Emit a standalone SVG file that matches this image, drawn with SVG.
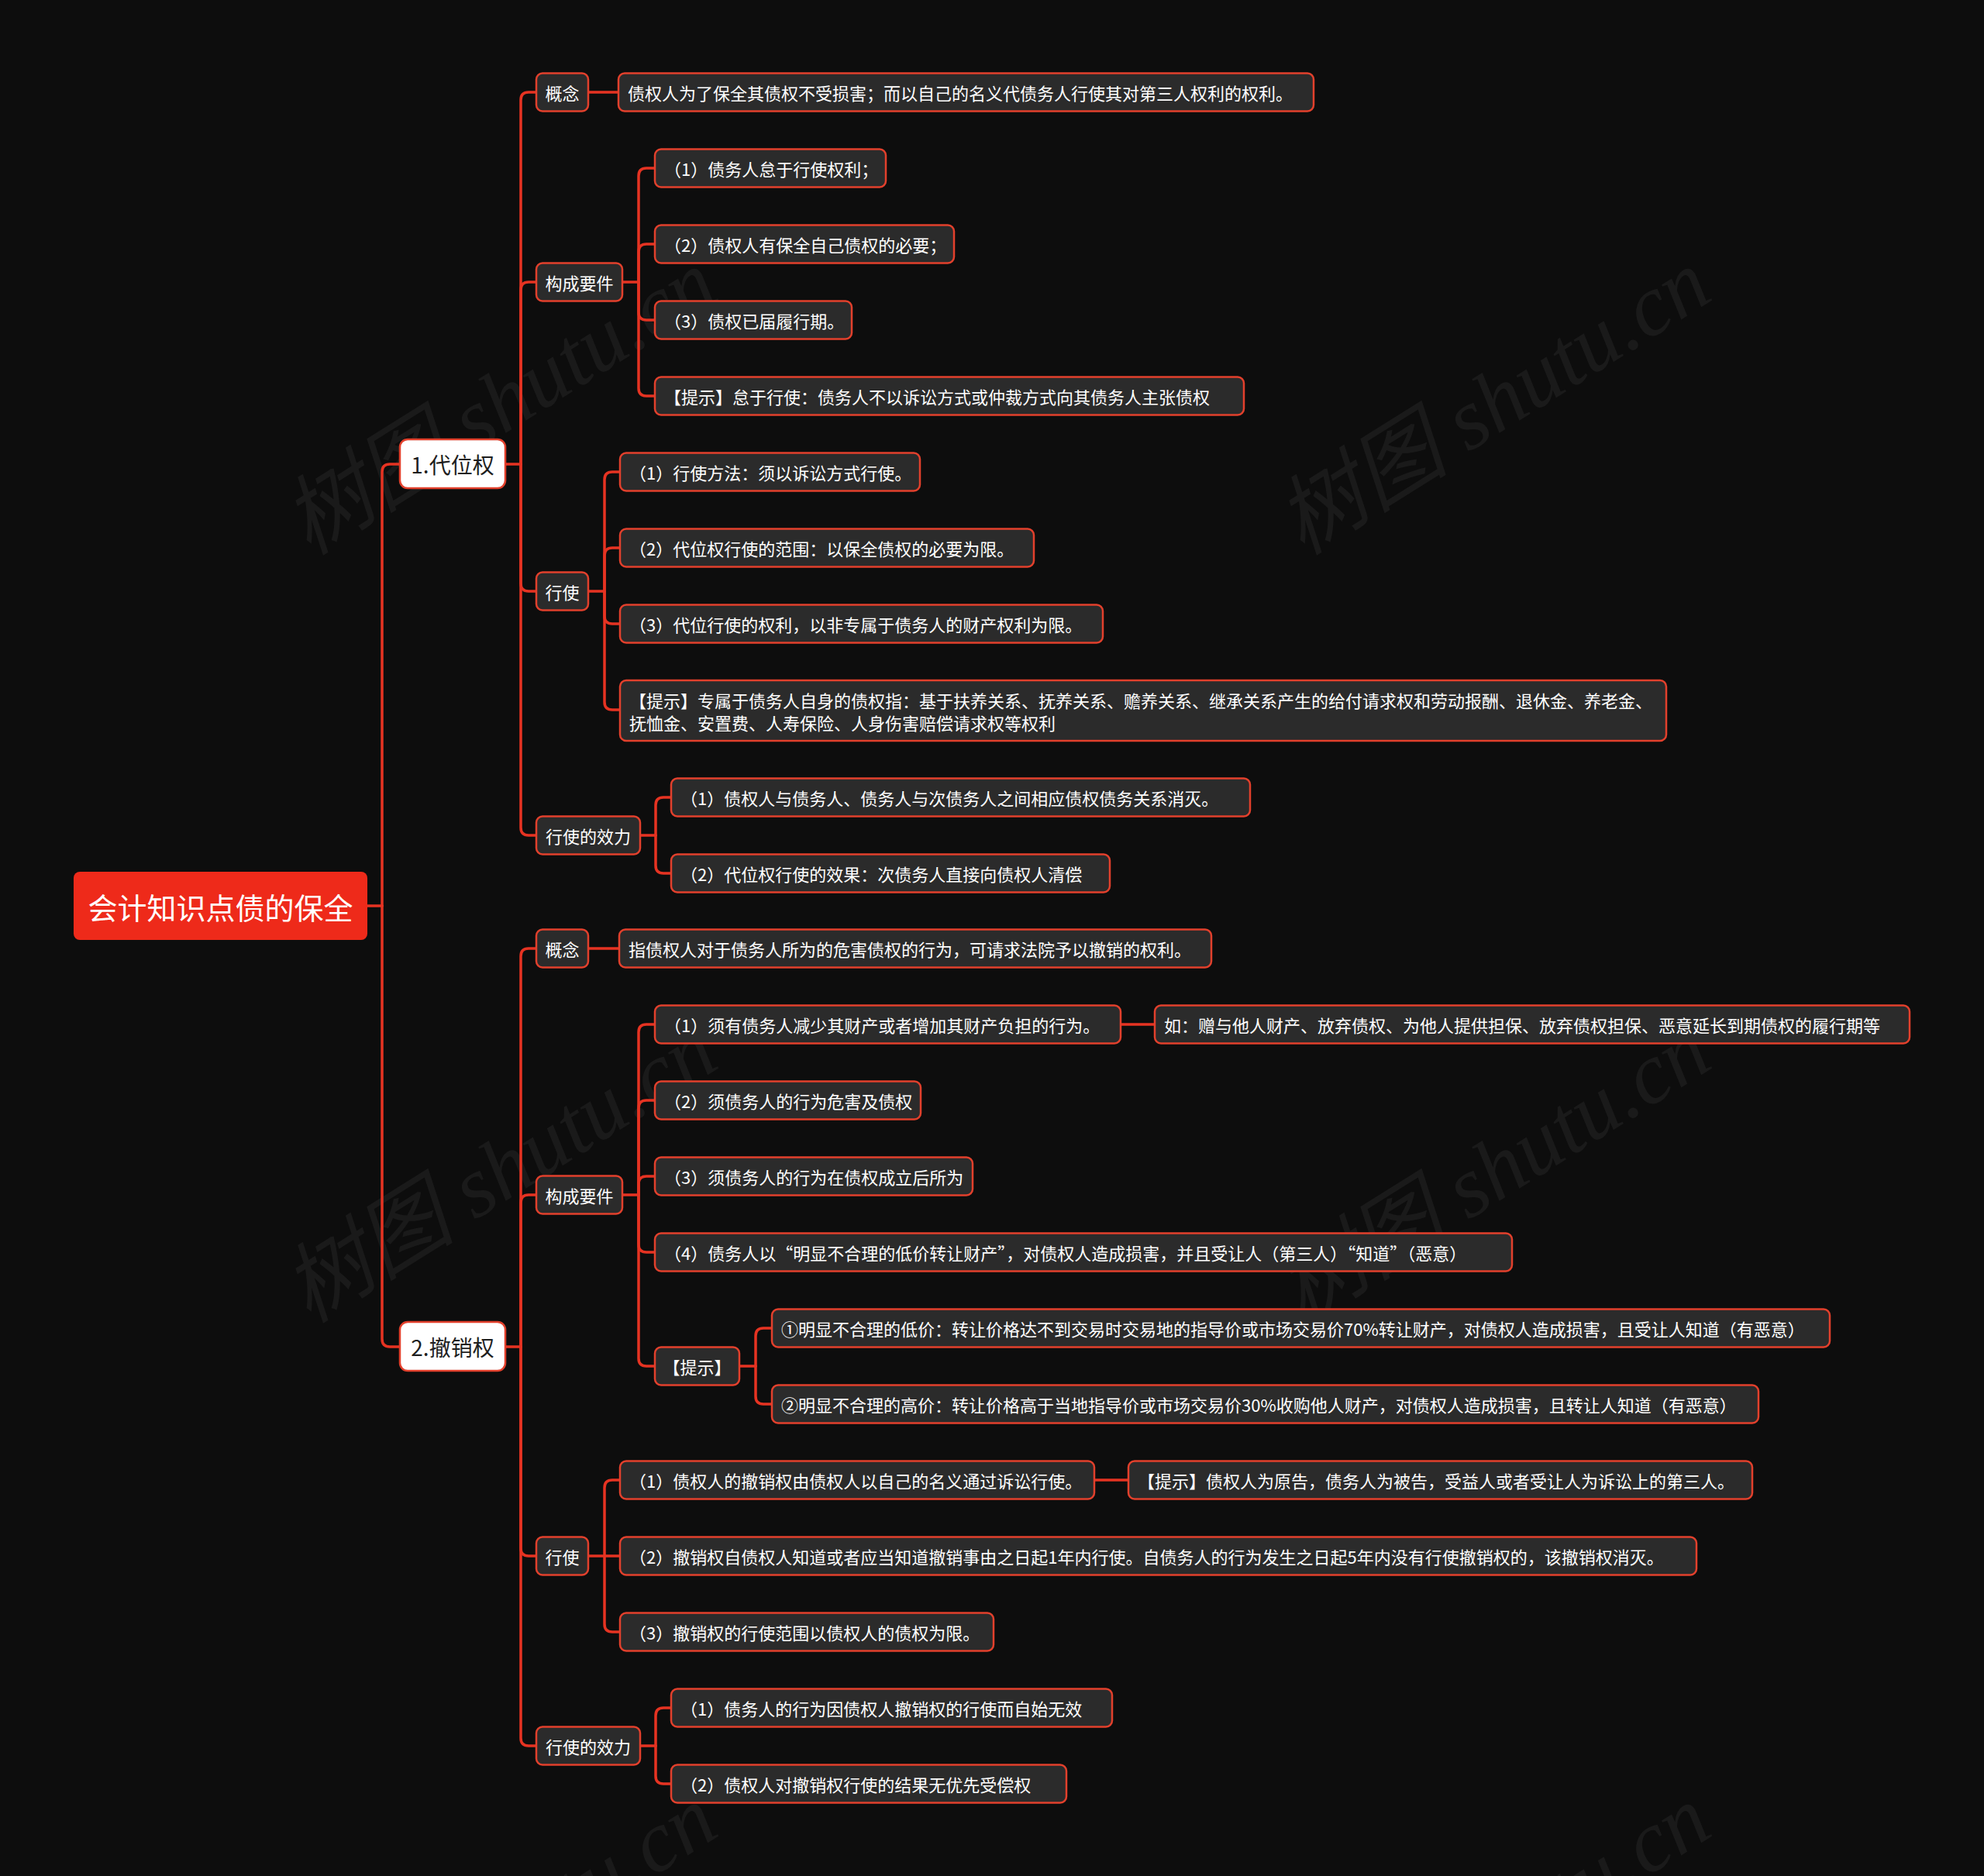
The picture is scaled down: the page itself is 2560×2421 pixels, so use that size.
<svg xmlns="http://www.w3.org/2000/svg" width="2560" height="2421" viewBox="0 0 2560 2421">
<style>
.bg{fill:#0d0d0d}
.wm{font-family:"Liberation Serif","Noto Sans CJK SC",serif;font-style:italic;font-size:112px;fill:#ffffff;fill-opacity:0.055}
.n rect{fill:#2b2b2b;stroke:#e2402c;stroke-width:2.5}
.n text{font-family:"Noto Sans CJK SC","Microsoft YaHei",sans-serif;font-size:22px;fill:#ffffff;dominant-baseline:central}
.c{text-anchor:middle}
.l1 rect{fill:#ffffff;stroke:#e2402c;stroke-width:2.5}
.l1 text{font-family:"Noto Sans CJK SC","Microsoft YaHei",sans-serif;font-size:28px;fill:#1e1e1e;dominant-baseline:central;text-anchor:middle}
.root rect{fill:#ee2a1a}
.root text{font-family:"Noto Sans CJK SC","Microsoft YaHei",sans-serif;font-size:38px;fill:#ffffff;dominant-baseline:central;text-anchor:middle}
#connectors path{fill:none;stroke:#e63322;stroke-width:3.5;stroke-linecap:round}
</style>
<rect class="bg" x="0" y="0" width="2560" height="2421"/>
<g id="watermarks">
<text class="wm" x="645" y="519" text-anchor="middle" dominant-baseline="central" transform="rotate(-32 645 519)">树图 shutu.cn</text>
<text class="wm" x="1927" y="519" text-anchor="middle" dominant-baseline="central" transform="rotate(-32 1927 519)">树图 shutu.cn</text>
<text class="wm" x="645" y="1510" text-anchor="middle" dominant-baseline="central" transform="rotate(-32 645 1510)">树图 shutu.cn</text>
<text class="wm" x="1927" y="1510" text-anchor="middle" dominant-baseline="central" transform="rotate(-32 1927 1510)">树图 shutu.cn</text>
<text class="wm" x="645" y="2501" text-anchor="middle" dominant-baseline="central" transform="rotate(-32 645 2501)">树图 shutu.cn</text>
<text class="wm" x="1927" y="2501" text-anchor="middle" dominant-baseline="central" transform="rotate(-32 1927 2501)">树图 shutu.cn</text>
</g>
<g id="connectors">
<path d="M474,1169 H493"/>
<path d="M493,1169 V609 Q493,599 503,599 H516"/>
<path d="M493,1169 V1728 Q493,1738 503,1738 H516"/>
<path d="M652,599 H672"/>
<path d="M672,599 V129 Q672,119 682,119 H692"/>
<path d="M672,599 V374 Q672,364 682,364 H692"/>
<path d="M672,599 V753 Q672,763 682,763 H692"/>
<path d="M672,599 V1068 Q672,1078 682,1078 H692"/>
<path d="M759,119 H798"/>
<path d="M803,364 H824"/>
<path d="M824,364 V227 Q824,217 834,217 H845"/>
<path d="M824,364 V325 Q824,315 834,315 H845"/>
<path d="M824,364 V403 Q824,413 834,413 H845"/>
<path d="M824,364 V501 Q824,511 834,511 H845"/>
<path d="M759,763 H780"/>
<path d="M780,763 V619 Q780,609 790,609 H800"/>
<path d="M780,763 V717 Q780,707 790,707 H800"/>
<path d="M780,763 V795 Q780,805 790,805 H800"/>
<path d="M780,763 V906 Q780,916 790,916 H800"/>
<path d="M825,1078 H846"/>
<path d="M846,1078 V1039 Q846,1029 856,1029 H866"/>
<path d="M846,1078 V1117 Q846,1127 856,1127 H866"/>
<path d="M652,1738 H672"/>
<path d="M672,1738 V1234 Q672,1224 682,1224 H692"/>
<path d="M672,1738 V1552 Q672,1542 682,1542 H692"/>
<path d="M672,1738 V1998 Q672,2008 682,2008 H692"/>
<path d="M672,1738 V2243 Q672,2253 682,2253 H692"/>
<path d="M759,1224 H799"/>
<path d="M803,1542 H824"/>
<path d="M824,1542 V1332 Q824,1322 834,1322 H845"/>
<path d="M824,1542 V1430 Q824,1420 834,1420 H845"/>
<path d="M824,1542 V1528 Q824,1518 834,1518 H845"/>
<path d="M824,1542 V1606 Q824,1616 834,1616 H845"/>
<path d="M824,1542 V1753 Q824,1763 834,1763 H845"/>
<path d="M1446,1322 H1490"/>
<path d="M954,1763 H975"/>
<path d="M975,1763 V1724 Q975,1714 985,1714 H996"/>
<path d="M975,1763 V1802 Q975,1812 985,1812 H996"/>
<path d="M759,2008 H800"/>
<path d="M780,2008 V1920 Q780,1910 790,1910 H800"/>
<path d="M780,2008 V2096 Q780,2106 790,2106 H800"/>
<path d="M1412,1910 H1456"/>
<path d="M825,2253 H846"/>
<path d="M846,2253 V2214 Q846,2204 856,2204 H866"/>
<path d="M846,2253 V2292 Q846,2302 856,2302 H866"/>
</g>
<g id="root" class="root"><rect x="95" y="1125" width="379" height="88" rx="8"/><text x="284.5" y="1169">会计知识点债的保全</text></g>
<g id="l1a" class="l1"><rect x="516" y="567" width="136" height="63" rx="10"/><text x="584" y="599">1.代位权</text></g>
<g id="l1b" class="l1"><rect x="516" y="1706" width="136" height="63" rx="10"/><text x="584" y="1738">2.撤销权</text></g>

<g id="n1" class="n"><rect x="692" y="94.5" width="67" height="49" rx="8"/><text class="c" x="725.5" y="119">概念</text></g>
<g id="n2" class="n"><rect x="798" y="94.5" width="897" height="49" rx="8"/><text x="810" y="119">债权人为了保全其债权不受损害；而以自己的名义代债务人行使其对第三人权利的权利。</text></g>
<g id="n3" class="n"><rect x="692" y="339.5" width="111" height="49" rx="8"/><text class="c" x="747.5" y="364">构成要件</text></g>
<g id="n4" class="n"><rect x="845" y="192.5" width="298" height="49" rx="8"/><text x="857" y="217">（1）债务人怠于行使权利；</text></g>
<g id="n5" class="n"><rect x="845" y="290.5" width="386" height="49" rx="8"/><text x="857" y="315">（2）债权人有保全自己债权的必要；</text></g>
<g id="n6" class="n"><rect x="845" y="388.5" width="254" height="49" rx="8"/><text x="857" y="413">（3）债权已届履行期。</text></g>
<g id="n7" class="n"><rect x="845" y="486.5" width="760" height="49" rx="8"/><text x="857" y="511">【提示】怠于行使：债务人不以诉讼方式或仲裁方式向其债务人主张债权</text></g>
<g id="n8" class="n"><rect x="692" y="738.5" width="67" height="49" rx="8"/><text class="c" x="725.5" y="763">行使</text></g>
<g id="n9" class="n"><rect x="800" y="584.5" width="387" height="49" rx="8"/><text x="812" y="609">（1）行使方法：须以诉讼方式行使。</text></g>
<g id="n10" class="n"><rect x="800" y="682.5" width="534" height="49" rx="8"/><text x="812" y="707">（2）代位权行使的范围：以保全债权的必要为限。</text></g>
<g id="n11" class="n"><rect x="800" y="780.5" width="623" height="49" rx="8"/><text x="812" y="805">（3）代位行使的权利，以非专属于债务人的财产权利为限。</text></g>
<g id="n12" class="n"><rect x="800" y="878" width="1350" height="78" rx="8"/><text x="812" y="903">【提示】专属于债务人自身的债权指：基于扶养关系、抚养关系、赡养关系、继承关系产生的给付请求权和劳动报酬、退休金、养老金、</text><text x="812" y="932">抚恤金、安置费、人寿保险、人身伤害赔偿请求权等权利</text></g>
<g id="n13" class="n"><rect x="692" y="1053.5" width="134" height="49" rx="8"/><text class="c" x="759" y="1078">行使的效力</text></g>
<g id="n14" class="n"><rect x="866" y="1004.5" width="747" height="49" rx="8"/><text x="878" y="1029">（1）债权人与债务人、债务人与次债务人之间相应债权债务关系消灭。</text></g>
<g id="n15" class="n"><rect x="866" y="1102.5" width="566" height="49" rx="8"/><text x="878" y="1127">（2）代位权行使的效果：次债务人直接向债权人清偿</text></g>

<g id="m1" class="n"><rect x="692" y="1199.5" width="67" height="49" rx="8"/><text class="c" x="725.5" y="1224">概念</text></g>
<g id="m2" class="n"><rect x="799" y="1199.5" width="764" height="49" rx="8"/><text x="811" y="1224">指债权人对于债务人所为的危害债权的行为，可请求法院予以撤销的权利。</text></g>
<g id="m3" class="n"><rect x="692" y="1517.5" width="111" height="49" rx="8"/><text class="c" x="747.5" y="1542">构成要件</text></g>
<g id="m4" class="n"><rect x="845" y="1297.5" width="601" height="49" rx="8"/><text x="857" y="1322">（1）须有债务人减少其财产或者增加其财产负担的行为。</text></g>
<g id="m5" class="n"><rect x="1490" y="1297.5" width="974" height="49" rx="8"/><text x="1502" y="1322">如：赠与他人财产、放弃债权、为他人提供担保、放弃债权担保、恶意延长到期债权的履行期等</text></g>
<g id="m6" class="n"><rect x="845" y="1395.5" width="343" height="49" rx="8"/><text x="857" y="1420">（2）须债务人的行为危害及债权</text></g>
<g id="m7" class="n"><rect x="845" y="1493.5" width="410" height="49" rx="8"/><text x="857" y="1518">（3）须债务人的行为在债权成立后所为</text></g>
<g id="m8" class="n"><rect x="845" y="1591.5" width="1106" height="49" rx="8"/><text x="857" y="1616">（4）债务人以“明显不合理的低价转让财产”，对债权人造成损害，并且受让人（第三人）“知道”（恶意）</text></g>
<g id="m9" class="n"><rect x="845" y="1738.5" width="109" height="49" rx="8"/><text class="c" x="899.5" y="1763">【提示】</text></g>
<g id="m10" class="n"><rect x="996" y="1689.5" width="1365" height="49" rx="8"/><text x="1008" y="1714">①明显不合理的低价：转让价格达不到交易时交易地的指导价或市场交易价70%转让财产，对债权人造成损害，且受让人知道（有恶意）</text></g>
<g id="m11" class="n"><rect x="996" y="1787.5" width="1273" height="49" rx="8"/><text x="1008" y="1812">②明显不合理的高价：转让价格高于当地指导价或市场交易价30%收购他人财产，对债权人造成损害，且转让人知道（有恶意）</text></g>
<g id="m12" class="n"><rect x="692" y="1983.5" width="67" height="49" rx="8"/><text class="c" x="725.5" y="2008">行使</text></g>
<g id="m13" class="n"><rect x="800" y="1885.5" width="612" height="49" rx="8"/><text x="812" y="1910">（1）债权人的撤销权由债权人以自己的名义通过诉讼行使。</text></g>
<g id="m14" class="n"><rect x="1456" y="1885.5" width="805" height="49" rx="8"/><text x="1468" y="1910">【提示】债权人为原告，债务人为被告，受益人或者受让人为诉讼上的第三人。</text></g>
<g id="m15" class="n"><rect x="800" y="1983.5" width="1389" height="49" rx="8"/><text x="812" y="2008">（2）撤销权自债权人知道或者应当知道撤销事由之日起1年内行使。自债务人的行为发生之日起5年内没有行使撤销权的，该撤销权消灭。</text></g>
<g id="m16" class="n"><rect x="800" y="2081.5" width="482" height="49" rx="8"/><text x="812" y="2106">（3）撤销权的行使范围以债权人的债权为限。</text></g>
<g id="m17" class="n"><rect x="692" y="2228.5" width="134" height="49" rx="8"/><text class="c" x="759" y="2253">行使的效力</text></g>
<g id="m18" class="n"><rect x="866" y="2179.5" width="569" height="49" rx="8"/><text x="878" y="2204">（1）债务人的行为因债权人撤销权的行使而自始无效</text></g>
<g id="m19" class="n"><rect x="866" y="2277.5" width="510" height="49" rx="8"/><text x="878" y="2302">（2）债权人对撤销权行使的结果无优先受偿权</text></g>
</svg>
